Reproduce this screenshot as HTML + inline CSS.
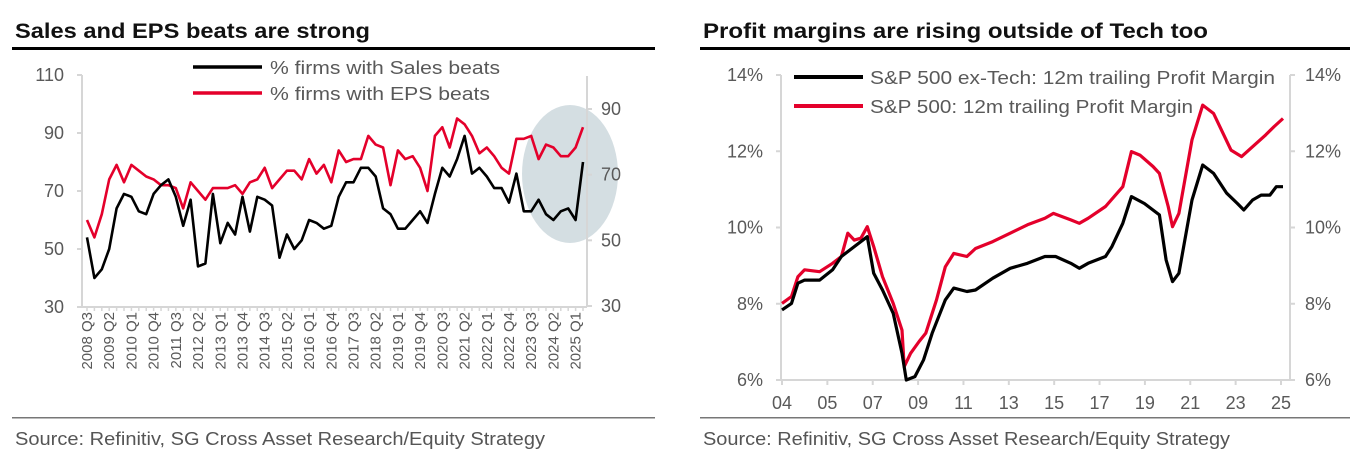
<!DOCTYPE html>
<html><head><meta charset="utf-8"><style>
html,body{margin:0;padding:0;background:#fff;}
svg{display:block;font-family:"Liberation Sans",Arial,sans-serif;}
</style></head><body>
<svg id="s" width="1360" height="470" viewBox="0 0 1360 470">
<rect width="1360" height="470" fill="#fff"/>
<text x="15" y="38" font-size="21" font-weight="bold" fill="#111" textLength="355" lengthAdjust="spacingAndGlyphs">Sales and EPS beats are strong</text>
<rect x="12" y="47" width="643" height="3" fill="#000"/>
<text x="703" y="38" font-size="21" font-weight="bold" fill="#111" textLength="505" lengthAdjust="spacingAndGlyphs">Profit margins are rising outside of Tech too</text>
<rect x="700" y="47" width="650" height="3" fill="#000"/>
<rect x="12" y="417" width="643" height="1.5" fill="#777"/>
<rect x="700" y="417" width="650" height="1.5" fill="#777"/>
<text x="15" y="445" font-size="18" fill="#555" textLength="530" lengthAdjust="spacingAndGlyphs">Source: Refinitiv, SG Cross Asset Research/Equity Strategy</text>
<text x="703" y="445" font-size="18" fill="#555" textLength="527" lengthAdjust="spacingAndGlyphs">Source: Refinitiv, SG Cross Asset Research/Equity Strategy</text>
<g id="L"></g>
<g id="R"></g>
</svg>
<script>
// ---- Left chart data ----
const qLabels = ["2008 Q3","2009 Q2","2010 Q1","2010 Q4","2011 Q3","2012 Q2","2013 Q1","2013 Q4","2014 Q3","2015 Q2","2016 Q1","2016 Q4","2017 Q3","2018 Q2","2019 Q1","2019 Q4","2020 Q3","2021 Q2","2022 Q1","2022 Q4","2023 Q3","2024 Q2","2025 Q1"];
const salesBeats = [54,40,43,50,64,69,68,63,62,69,72,74,68,58,67,44,45,69,52,59,55,68,56,68,67,65,47,55,50,53,60,59,57,58,68,73,73,78,78,75,64,62,57,57,60,63,59,69,78,75,81,89,76,78,75,71,71,66,76,63,63,67,62,60,63,64,60,80];
const epsBeats = [60,54,62,74,79,73,79,77,75,74,72,72,71,64,73,70,67,71,71,71,72,69,73,74,78,71,74,77,77,74,81,76,79,73,84,80,81,81,89,86,85,72,84,81,82,78,70,89,92,85,95,93,89,83,85,82,78,76,88,88,89,81,86,85,82,82,85,92];
const leftTicks = [30,50,70,90,110];
const rightTicks = [30,50,70,90];
// ---- Right chart data ----
const axisYears = ["04","05","07","09","11","13","15","17","19","21","23","25"];
const pctTicks = [6,8,10,12,14];
const exTechT = [2004.0,2004.4,2004.67,2004.95,2005.58,2006.13,2006.5,2007.04,2007.59,2007.86,2008.23,2008.68,2009.05,2009.23,2009.59,2009.96,2010.32,2010.87,2011.23,2011.78,2012.14,2012.87,2013.6,2014.33,2015.06,2015.51,2016.15,2016.51,2016.88,2017.61,2017.88,2018.34,2018.7,2019.25,2019.88,2020.16,2020.43,2020.7,2021.25,2021.7,2022.16,2022.71,2023.16,2023.43,2023.8,2024.16,2024.53,2024.8,2025.08];
const exTechV = [7.84,8.01,8.54,8.62,8.62,8.89,9.24,9.5,9.76,8.8,8.36,7.75,6.7,6.0,6.09,6.53,7.23,8.1,8.41,8.32,8.36,8.67,8.93,9.06,9.24,9.24,9.06,8.93,9.06,9.24,9.5,10.11,10.81,10.63,10.33,9.15,8.58,8.8,10.72,11.64,11.42,10.9,10.63,10.46,10.72,10.85,10.85,11.07,11.07];
const spxT = [2004.0,2004.4,2004.67,2004.95,2005.58,2006.13,2006.5,2006.77,2007.04,2007.32,2007.59,2007.86,2008.23,2008.68,2009.05,2009.14,2009.41,2009.77,2010.05,2010.5,2010.87,2011.23,2011.78,2012.14,2012.87,2013.6,2014.33,2015.06,2015.42,2016.15,2016.51,2016.88,2017.61,2018.34,2018.7,2019.06,2019.61,2019.88,2020.25,2020.43,2020.7,2021.25,2021.7,2022.16,2022.89,2023.34,2023.8,2024.35,2024.71,2025.08];
const spxV = [8.01,8.19,8.71,8.89,8.84,9.06,9.24,9.85,9.67,9.72,10.02,9.5,8.71,8.01,7.31,6.35,6.7,7.01,7.23,8.1,8.97,9.32,9.24,9.45,9.63,9.85,10.07,10.24,10.37,10.2,10.11,10.24,10.55,11.07,11.99,11.9,11.6,11.42,10.55,10.02,10.37,12.3,13.21,12.99,12.03,11.86,12.12,12.43,12.65,12.86];

const NS="http://www.w3.org/2000/svg";
function mk(parent,tag,attrs,txt){const e=document.createElementNS(NS,tag);for(const k in attrs)e.setAttribute(k,attrs[k]);if(txt!==undefined)e.textContent=txt;parent.appendChild(e);return e;}
const AX="#d6d6d6", TX="#595959";

// ---------- Left chart ----------
const L=document.getElementById('L');
const lx0=82,lx1=587,lTop=75,lBot=307;
const xL=i=>87+i*(583-87)/(salesBeats.length-1);
const yL=v=>lBot-(v-30)/(110-30)*(lBot-lTop);
const yR=v=>306-(v-30)/(90-30)*(306-109);
let el=mk(L,'ellipse',{cx:570,cy:174,rx:48,ry:69,fill:'#c5d3d8',opacity:'0.75'});


el=mk(L,'line',{x1:lx0,y1:lTop,x2:lx0,y2:lBot,stroke:AX,'stroke-width':2});


el=mk(L,'line',{x1:lx1,y1:76,x2:lx1,y2:lBot,stroke:AX,'stroke-width':2});


el=mk(L,'line',{x1:lx0,y1:lBot,x2:lx1,y2:lBot,stroke:AX,'stroke-width':2});


for(let i=0;i<salesBeats.length;i++){
  el=mk(L,'line',{x1:xL(i),y1:lBot,x2:xL(i),y2:lBot+4,stroke:AX,'stroke-width':1.5});
  
  
}
leftTicks.forEach(v=>{
  el=mk(L,'line',{x1:lx0-5,y1:yL(v),x2:lx0,y2:yL(v),stroke:AX,'stroke-width':2});
  
  
  el=mk(L,'text',{x:64,y:yL(v)+6,'font-size':18,fill:TX,'text-anchor':'end'},String(v));
  
  
});
rightTicks.forEach(v=>{
  el=mk(L,'line',{x1:lx1,y1:yR(v),x2:lx1+5,y2:yR(v),stroke:AX,'stroke-width':2});
  
  
  el=mk(L,'text',{x:601,y:yR(v)+6,'font-size':18,fill:TX},String(v));
  
  
});
qLabels.forEach((s,k)=>{
  const x=xL(k*3)+5;
  el=mk(L,'text',{x:0,y:0,'font-size':15,fill:TX,'text-anchor':'end',transform:`translate(${x},312) rotate(-90)`},s);
  
  
});
function pathL(arr){return arr.map((v,i)=>(i?'L':'M')+xL(i).toFixed(1)+','+yL(v).toFixed(1)).join('');}
el=mk(L,'path',{d:pathL(epsBeats),fill:'none',stroke:'#e4002b','stroke-width':2.6,'stroke-linejoin':'round'});


el=mk(L,'path',{d:pathL(salesBeats),fill:'none',stroke:'#000','stroke-width':2.6,'stroke-linejoin':'round'});


el=mk(L,'line',{x1:193,y1:67,x2:262,y2:67,stroke:'#000','stroke-width':3.5});


el=mk(L,'text',{x:270,y:74,'font-size':18.5,fill:TX,textLength:230,lengthAdjust:'spacingAndGlyphs'},'% firms with Sales beats');


el=mk(L,'line',{x1:193,y1:93,x2:262,y2:93,stroke:'#e4002b','stroke-width':3.5});


el=mk(L,'text',{x:270,y:100,'font-size':18.5,fill:TX,textLength:220,lengthAdjust:'spacingAndGlyphs'},'% firms with EPS beats');



// ---------- Right chart ----------
const R=document.getElementById('R');
const rx0=781,rx1=1290,rTop=75,rBot=380;
const xR=t=>782+(t-2004)*(1283-782)/21.08;
const yP=v=>rBot-(v-6)/8*(rBot-rTop);
el=mk(R,'line',{x1:rx0,y1:rTop,x2:rx0,y2:rBot,stroke:AX,'stroke-width':2});


el=mk(R,'line',{x1:rx1,y1:rTop,x2:rx1,y2:rBot,stroke:AX,'stroke-width':2});


el=mk(R,'line',{x1:rx0,y1:rBot,x2:rx1,y2:rBot,stroke:AX,'stroke-width':2});


pctTicks.forEach(v=>{
  el=mk(R,'line',{x1:rx0-5,y1:yP(v),x2:rx0,y2:yP(v),stroke:AX,'stroke-width':2});
  
  
  el=mk(R,'line',{x1:rx1,y1:yP(v),x2:rx1+5,y2:yP(v),stroke:AX,'stroke-width':2});
  
  
  el=mk(R,'text',{x:763,y:yP(v)+6,'font-size':18,fill:TX,'text-anchor':'end'},v+'%');
  
  
  el=mk(R,'text',{x:1305,y:yP(v)+6,'font-size':18,fill:TX},v+'%');
  
  
});
axisYears.forEach((s,k)=>{
  const x=782+k*(1281-782)/(axisYears.length-1);
  el=mk(R,'line',{x1:x,y1:rBot,x2:x,y2:rBot+5,stroke:AX,'stroke-width':2});
  
  
  el=mk(R,'text',{x:x,y:409,'font-size':18,fill:TX,'text-anchor':'middle'},s);
  
  
});
function pathR(ts,vs){return ts.map((t,i)=>(i?'L':'M')+xR(t).toFixed(1)+','+yP(vs[i]).toFixed(1)).join('');}
el=mk(R,'path',{d:pathR(spxT,spxV),fill:'none',stroke:'#e4002b','stroke-width':3.2,'stroke-linejoin':'round'});


el=mk(R,'path',{d:pathR(exTechT,exTechV),fill:'none',stroke:'#000','stroke-width':3.2,'stroke-linejoin':'round'});


el=mk(R,'line',{x1:794,y1:77,x2:863,y2:77,stroke:'#000','stroke-width':4});


el=mk(R,'text',{x:870,y:84,'font-size':18,fill:TX,textLength:405,lengthAdjust:'spacingAndGlyphs'},'S&P 500 ex-Tech: 12m trailing Profit Margin');


el=mk(R,'line',{x1:794,y1:106,x2:863,y2:106,stroke:'#e4002b','stroke-width':4});


el=mk(R,'text',{x:870,y:113,'font-size':18,fill:TX,textLength:323,lengthAdjust:'spacingAndGlyphs'},'S&P 500: 12m trailing Profit Margin');


</script>
</body></html>
